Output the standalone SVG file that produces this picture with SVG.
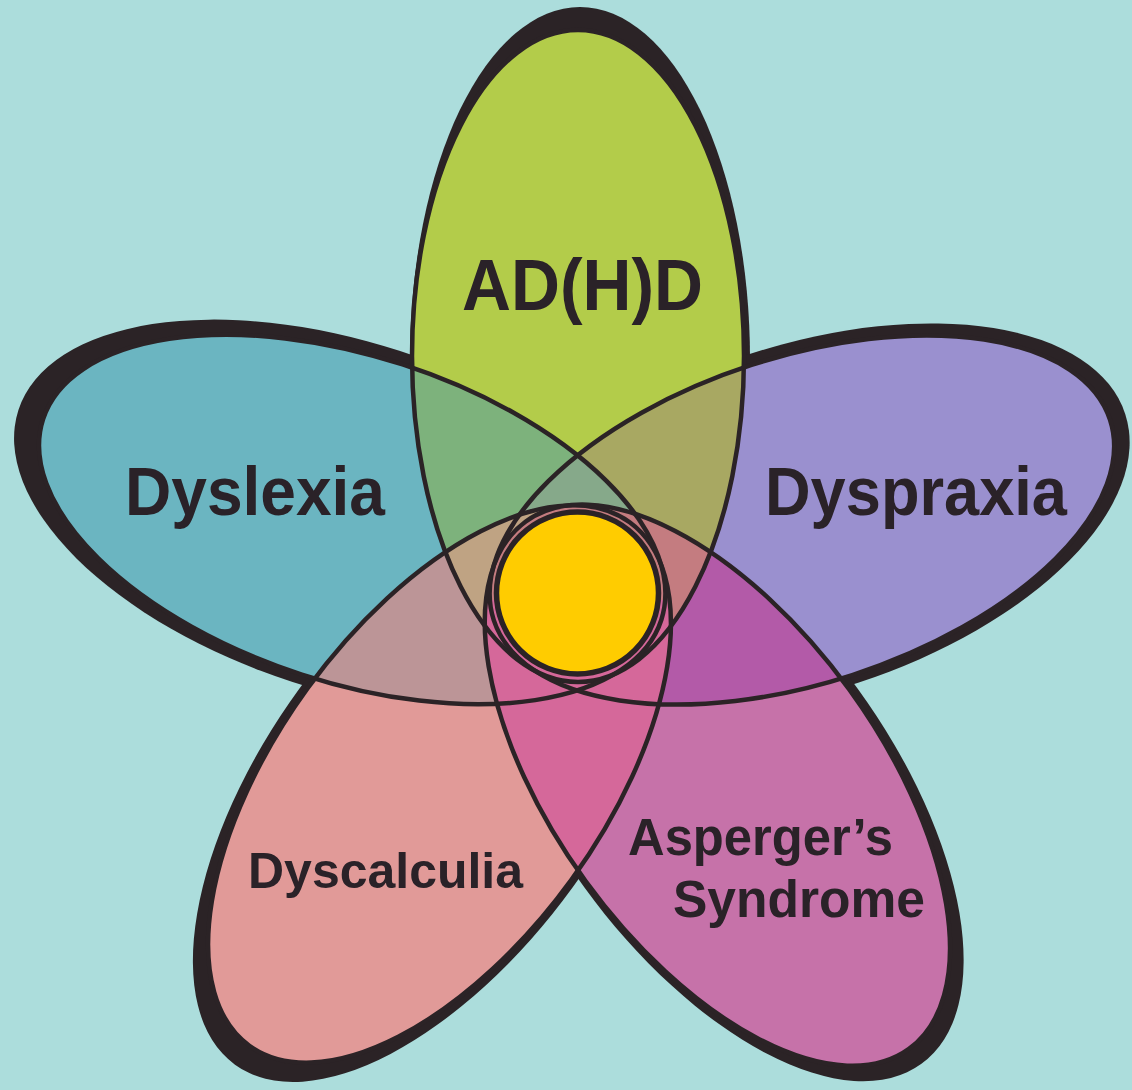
<svg xmlns="http://www.w3.org/2000/svg" xmlns:xlink="http://www.w3.org/1999/xlink" width="1132" height="1090" viewBox="0 0 1132 1090">
<style>
.ln{fill:none;stroke:#2b2326;stroke-width:4.5}
.sh{fill:#2b2326}
.lbl{font-family:"Liberation Sans",Arial,Helvetica,sans-serif;font-weight:bold;fill:#2a2228;text-anchor:middle}
</style>
<defs>
<ellipse id="eT" cx="578" cy="356" rx="166" ry="326"/>
<ellipse id="eL" cx="352.2" cy="519.5" rx="325" ry="163" transform="rotate(18 352.2 519.5)"/>
<ellipse id="eR" cx="801.9" cy="520" rx="324" ry="163" transform="rotate(-18 801.9 520)"/>
<ellipse id="eLL" cx="439.5" cy="784" rx="323.5" ry="163" transform="rotate(-54 439.5 784)"/>
<ellipse id="eLR" cx="717.4" cy="785.2" rx="326" ry="163" transform="rotate(54 717.4 785.2)"/>
<clipPath id="cT"><use href="#eT"/></clipPath>
<clipPath id="cL"><use href="#eL"/></clipPath>
<clipPath id="cR"><use href="#eR"/></clipPath>
<clipPath id="cLL"><use href="#eLL"/></clipPath>
<clipPath id="cLR"><use href="#eLR"/></clipPath>
<clipPath id="cLow"><rect x="0" y="600" width="1132" height="490"/></clipPath>
</defs>
<rect width="1132" height="1090" fill="#acdddc"/>
<g id="outer-shadow">
<ellipse class="sh" cx="580" cy="359" rx="170" ry="352"/>
<ellipse class="sh" cx="345.6" cy="516.3" rx="344" ry="174" transform="rotate(18 345.6 516.3)"/>
<ellipse class="sh" cx="804.7" cy="518.1" rx="337" ry="173" transform="rotate(-18 804.7 518.1)"/>
<ellipse class="sh" cx="436" cy="788" rx="342" ry="169" transform="rotate(-54 436 788)"/>
<ellipse class="sh" cx="721" cy="788" rx="341" ry="169" transform="rotate(54 721 788)"/>
</g>
<g id="node-adhd"><use href="#eT" fill="#b3cc4a"/><text class="lbl" x="582.5" y="310" font-size="72" textLength="241" lengthAdjust="spacingAndGlyphs">AD(H)D</text></g>
<g id="node-dyslexia"><use href="#eL" fill="#6bb5c1"/><text class="lbl" x="255" y="515" font-size="69" textLength="260" lengthAdjust="spacingAndGlyphs">Dyslexia</text></g>
<g id="node-dyspraxia"><use href="#eR" fill="#9a90cf"/><text class="lbl" x="916" y="515" font-size="69" textLength="302" lengthAdjust="spacingAndGlyphs">Dyspraxia</text></g>
<g id="node-dyscalculia"><use href="#eLL" fill="#e19a98"/><text class="lbl" x="385.5" y="888" font-size="50" textLength="275" lengthAdjust="spacingAndGlyphs">Dyscalculia</text></g>
<g id="node-asperger"><use href="#eLR" fill="#c672a9"/><text class="lbl" x="760.5" y="855" font-size="51" textLength="265" lengthAdjust="spacingAndGlyphs">Asperger’s</text><text class="lbl" x="799" y="917" font-size="51" textLength="252" lengthAdjust="spacingAndGlyphs">Syndrome</text></g>
<g id="overlaps">
<g clip-path="url(#cT)"><use href="#eL" fill="#7db27c"/></g>
<g clip-path="url(#cT)"><use href="#eR" fill="#a8a862"/></g>
<g clip-path="url(#cL)"><use href="#eLL" fill="#bc9597"/></g>
<g clip-path="url(#cR)"><use href="#eLR" fill="#b35aa8"/></g>
<g clip-path="url(#cLL)"><use href="#eLR" fill="#d85f96"/></g>
<g clip-path="url(#cL)"><use href="#eLR" fill="#cf7a98"/></g>
<g clip-path="url(#cR)"><use href="#eLL" fill="#cc6e98"/></g>
<g clip-path="url(#cL)"><use href="#eR" fill="#86a98a"/></g>
<g clip-path="url(#cT)"><g clip-path="url(#cL)"><use href="#eLL" fill="#bfa383"/></g></g>
<g clip-path="url(#cT)"><g clip-path="url(#cR)"><use href="#eLR" fill="#c47c80"/></g></g>
<g clip-path="url(#cLow)"><g clip-path="url(#cLL)"><use href="#eLR" fill="#d5689a"/></g></g>
</g>
<g id="connectors">
<use href="#eT" class="ln"/>
<use href="#eL" class="ln"/>
<use href="#eR" class="ln"/>
<use href="#eLL" class="ln"/>
<use href="#eLR" class="ln"/>
</g>
<g id="node-center"><circle cx="577.5" cy="593" r="81" fill="#ffcc00" stroke="#2b2326" stroke-width="5.5"/></g>
</svg>
